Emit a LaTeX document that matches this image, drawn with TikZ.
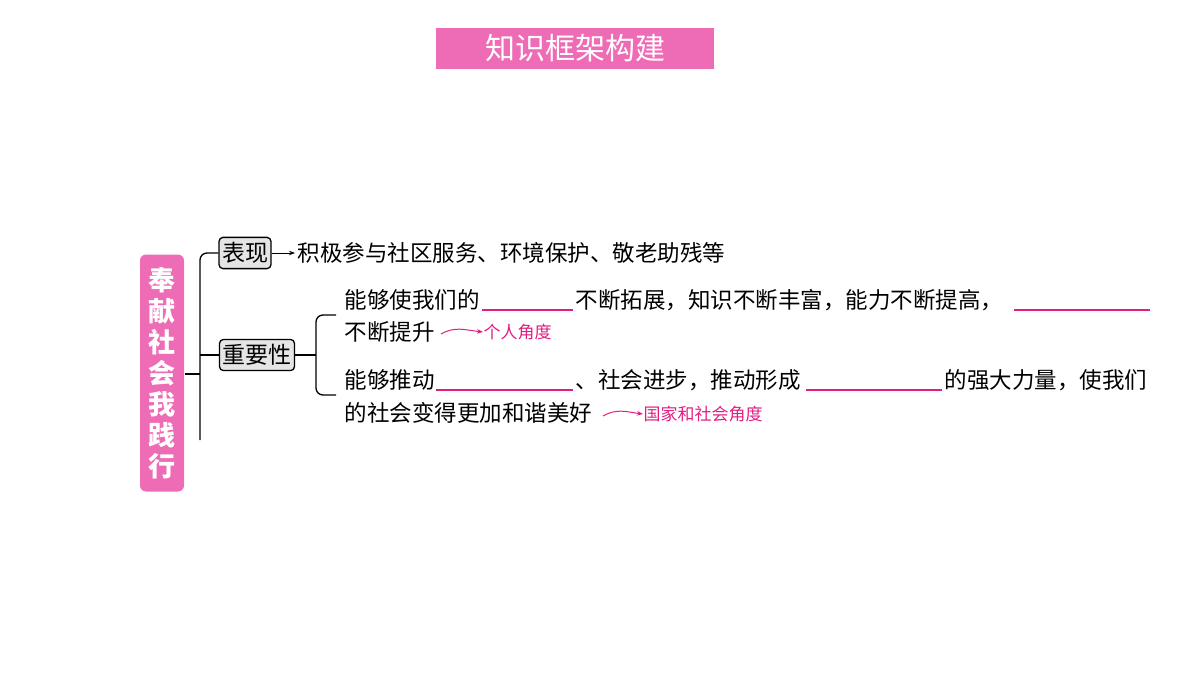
\documentclass[tikz,border=0pt]{standalone}
\usepackage{fontspec}
\setmainfont{Noto Sans CJK SC}
\usetikzlibrary{arrows.meta}
\definecolor{mypink}{RGB}{238,108,181}
\definecolor{mymag}{RGB}{224,30,130}
\begin{document}
\begin{tikzpicture}[x=1pt,y=-1pt,line width=1.3pt,>={Stealth[length=6pt]},
    txt/.style={anchor=west,inner sep=0pt,font=\fontsize{22.5}{22.5}\selectfont},
    note/.style={anchor=west,inner sep=0pt,text=mymag,font=\fontsize{17}{17}\selectfont},
    key box/.style={draw,rounded corners=4pt,fill=gray!20,inner xsep=3pt,inner ysep=5pt,font=\fontsize{23}{23}\selectfont},
    blank/.style={mymag,line width=1.2pt}]
  \useasboundingbox (0,0) rectangle (1200,675);
  % title
  \node[fill=mypink,text=white,minimum width=278,minimum height=41,font=\fontsize{30}{30}\selectfont] (TT) at (575,48) {知识框架构建};
  % main box
  \node[fill=mypink,text=white,rounded corners=6pt,minimum width=44,minimum height=237,align=center,
        font=\bfseries\fontsize{27}{31}\selectfont] (MB) at (162,373) {奉\\献\\社\\会\\我\\践\\行};
  \node[key box] (BX) at (245,253) {表现};
  \node[key box] (ZY) at (257,355) {重要性};
  \coordinate (TR) at (200,374);
  \draw (MB.east |- TR) -- (TR);
  \draw[rounded corners=7pt] (200,440) -- (200,253) -- (BX.west);
  \draw (200,355) -- (ZY.west);
  % 表现
  \node[txt] (BXT) at (297,253) {积极参与社区服务、环境保护、敬老助残等};
  \draw[->,line width=1pt,shorten >=2pt] (BX.east) -- (BXT.west);
  % brace
  \coordinate (BR) at (316,355);
  \draw (ZY.east) -- (BR);
  \draw[rounded corners=7pt] (336,315) -- (316,315) -- (316,395) -- (336,395);
  % 第一条
  \node[txt] (L1A) at (344,300) {能够使我们的};
  \draw[blank] (482,310) -- (573,310);
  \node[txt] (L1B) at (575,300) {不断拓展，知识不断丰富，能力不断提高，};
  \draw[blank] (1014,310) -- (1150,310);
  \node[txt] (L2A) at (344,332) {不断提升};
  \node[note] (N1) at (483,332) {个人角度};
  \draw[->,mymag,line width=1pt] (441,334) .. controls (455,326) and (465,330) .. (N1.west);
  % 第二条
  \node[txt] (L3A) at (344,380) {能够推动};
  \draw[blank] (436,390) -- (573,390);
  \node[txt] (L3B) at (575,380) {、社会进步，推动形成};
  \draw[blank] (806,390) -- (942,390);
  \node[txt] (L3C) at (944,380) {的强大力量，使我们};
  \node[txt] (L4A) at (344,413) {的社会变得更加和谐美好};
  \node[note] (N2) at (643,414) {国家和社会角度};
  \draw[->,mymag,line width=1pt] (603,416) .. controls (617,408) and (627,412) .. (N2.west);
\end{tikzpicture}
\end{document}
